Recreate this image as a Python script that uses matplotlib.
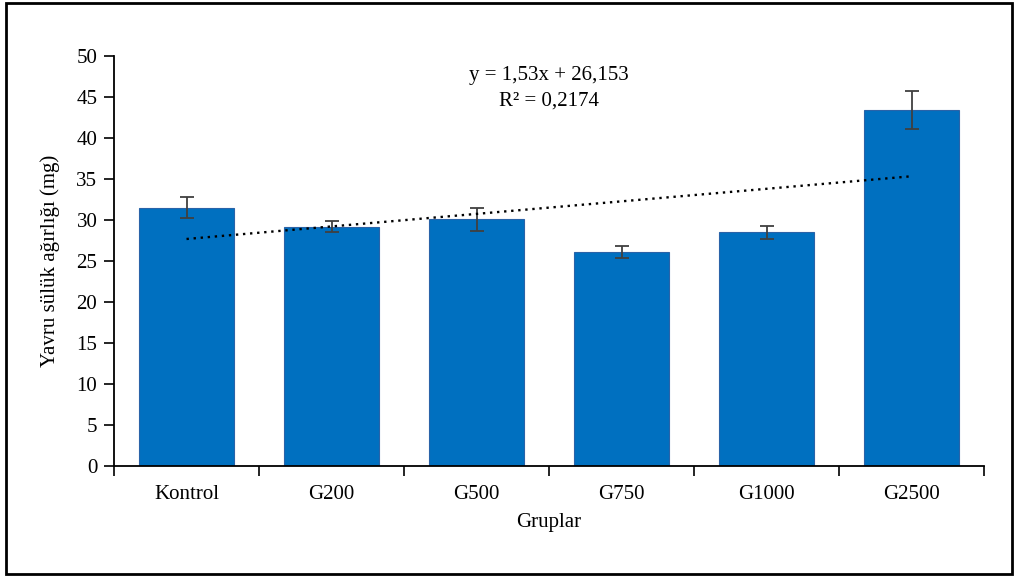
import matplotlib
matplotlib.use("Agg")
import matplotlib.pyplot as plt
from matplotlib.patches import Rectangle
import numpy as np

plt.rcParams['font.family'] = ['Liberation Serif', 'DejaVu Serif']

groups = ["Kontrol", "G200", "G500", "G750", "G1000", "G2500"]
means = [31.5, 29.2, 30.1, 26.1, 28.5, 43.4]
errors = [1.3, 0.7, 1.4, 0.7, 0.8, 2.3]
slope, intercept, r2 = 1.53, 26.153, 0.2174
y_ticks = [0, 5, 10, 15, 20, 25, 30, 35, 40, 45, 50]

fig = plt.figure(figsize=(10.17, 5.76), dpi=100)
ax = fig.add_axes([0.1121, 0.191, 0.8555, 0.7118])

x = np.arange(1, len(groups) + 1)
ax.bar(x, means, width=0.66, color="#0070C0", edgecolor="#2A63A8", linewidth=0.8, zorder=2)
ax.errorbar(x, means, yerr=errors, fmt="none", ecolor="#404040", elinewidth=1.3,
            capsize=5, capthick=1.3, zorder=3)

# linear trend line over the group index
trend_x = np.array([x[0], x[-1]])
ax.plot(trend_x, slope * trend_x + intercept, linestyle=(0, (1, 2)), color="black",
        linewidth=1.7, zorder=4)

ax.text(0.5, 0.952, "y = 1,53x + 26,153", transform=ax.transAxes, ha="center", va="center",
        fontsize=15)
ax.text(0.5, 0.889, "R² = 0,2174", transform=ax.transAxes, ha="center", va="center",
        fontsize=15)

ax.set_xlim(0.5, 6.5)
ax.set_ylim(0, 50)
ax.set_yticks(y_ticks)
ax.tick_params(axis="y", direction="out", length=7, width=1.2, labelsize=15, pad=5)

# category labels centred, ticks on the category boundaries
ax.set_xticks(np.arange(0.5, 7.0, 1.0))
ax.set_xticklabels([])
ax.set_xticks(x, minor=True)
ax.set_xticklabels(groups, minor=True, fontsize=15)
ax.tick_params(axis="x", which="major", direction="out", length=7, width=1.2)
ax.tick_params(axis="x", which="minor", length=0, pad=14)

for side in ["top", "right"]:
    ax.spines[side].set_visible(False)
for side in ["left", "bottom"]:
    ax.spines[side].set_linewidth(1.3)

ax.set_ylabel("Yavru sülük ağırlığı (mg)", fontsize=15, labelpad=12)
ax.set_xlabel("Gruplar", fontsize=15, labelpad=6)

fig.patches.append(Rectangle((0.006, 0.004), 0.989, 0.99, transform=fig.transFigure,
                             fill=False, edgecolor="black", linewidth=2))

fig.savefig("out.png", dpi=100)
